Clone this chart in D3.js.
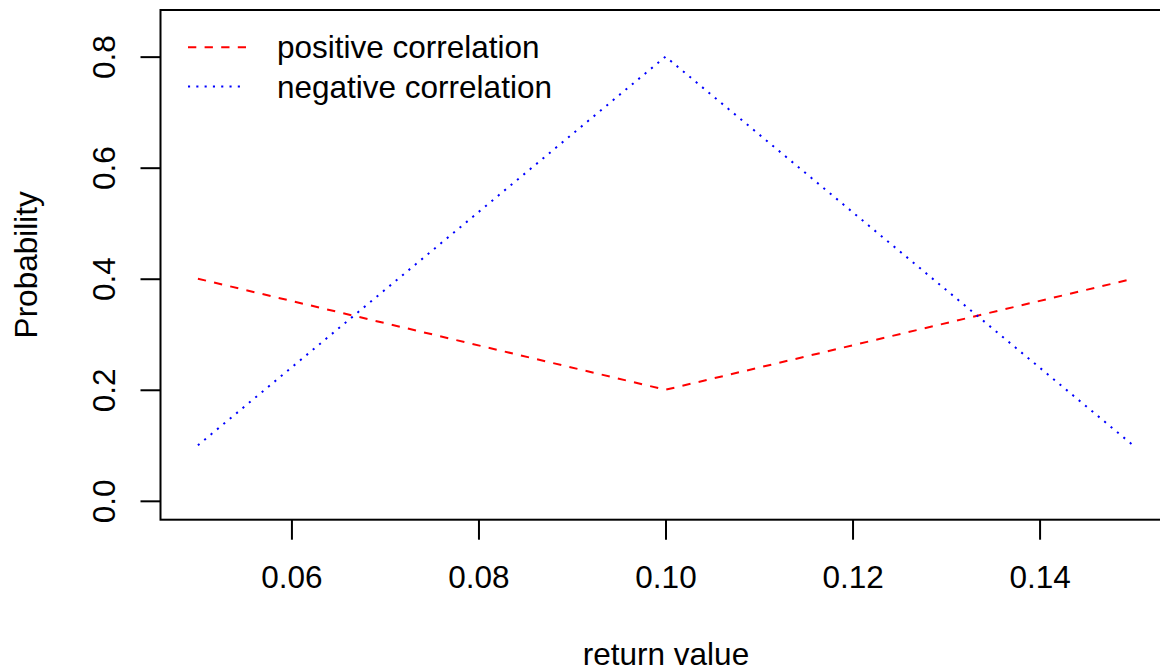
<!DOCTYPE html>
<html>
<head>
<meta charset="utf-8">
<script src="https://cdn.jsdelivr.net/npm/d3@7"></script>
<style>
  html, body { margin: 0; padding: 0; background: #fff; }
  svg { display: block; }
  text { font-family: "Liberation Sans", Arial, sans-serif; fill: #000; }
</style>
</head>
<body>
<svg id="chart" width="1160" height="672"></svg>
<script>
const returnValues = [0.05, 0.10, 0.15];
const positiveCorrelation = [0.4, 0.2, 0.4];
const negativeCorrelation = [0.1, 0.8, 0.1];
const xTicks = [0.06, 0.08, 0.10, 0.12, 0.14];
const yTicks = [0.0, 0.2, 0.4, 0.6, 0.8];
const seriesNames = ["positive correlation", "negative correlation"];
const seriesColors = ["#ff0000", "#0000ff"];

(function () {
const svg = d3.select("#chart");
const fs = 31.5;

const pLeft = 160.5, pRight = 1170.5, pTop = 10, pBottom = 519.7;
const x = d3.scaleLinear().domain([0.046, 0.154]).range([pLeft, pRight]);
const y = d3.scaleLinear().domain([-0.034, 0.884]).range([pBottom, pTop]);

// box
svg.append("rect")
  .attr("x", pLeft).attr("y", pTop)
  .attr("width", pRight - pLeft).attr("height", pBottom - pTop)
  .attr("fill", "none").attr("stroke", "#000").attr("stroke-width", 2);

// x axis
const xAxis = d3.axisBottom(x).tickValues(xTicks).tickFormat(d3.format(".2f"))
  .tickSize(20).tickPadding(0);
const gx = svg.append("g").attr("transform", `translate(0,${pBottom})`).call(xAxis);
gx.select(".domain").remove();
gx.selectAll(".tick line").attr("stroke", "#000").attr("stroke-width", 2);
gx.selectAll(".tick text").attr("font-size", fs).attr("font-family", "Liberation Sans, Arial, sans-serif")
  .attr("dy", null).attr("y", 588.5 - pBottom);

// y axis
const yAxis = d3.axisLeft(y).tickValues(yTicks).tickFormat(d3.format(".1f"))
  .tickSize(20).tickPadding(0);
const gy = svg.append("g").attr("transform", `translate(${pLeft},0)`).call(yAxis);
gy.select(".domain").remove();
gy.selectAll(".tick line").attr("stroke", "#000").attr("stroke-width", 2);
gy.selectAll(".tick text").attr("font-size", fs).attr("font-family", "Liberation Sans, Arial, sans-serif")
  .attr("x", null).attr("dy", null)
  .attr("text-anchor", "middle")
  .attr("transform", `translate(${115 - pLeft},0) rotate(-90)`);

// axis titles
svg.append("text").attr("x", 666).attr("y", 665).attr("text-anchor", "middle")
  .attr("font-size", fs).text("return value");
svg.append("text").attr("text-anchor", "middle").attr("font-size", fs)
  .attr("transform", `translate(37,${(pTop + pBottom) / 2}) rotate(-90)`).text("Probability");

// lines
const line = d3.line().x((d, i) => x(returnValues[i])).y(d => y(d));
svg.append("path").datum(positiveCorrelation).attr("d", line)
  .attr("fill", "none").attr("stroke", seriesColors[0]).attr("stroke-width", 2)
  .attr("stroke-dasharray", "8.3,8.3");
svg.append("path").datum(negativeCorrelation).attr("d", line)
  .attr("fill", "none").attr("stroke", seriesColors[1]).attr("stroke-width", 2)
  .attr("stroke-dasharray", "2.1,6.2");

// legend
const legendY = [47.3, 86.5];
const dashes = ["8.3,8.3", "2.1,6.2"];
seriesNames.forEach((name, i) => {
  svg.append("line").attr("x1", 188).attr("x2", 246)
    .attr("y1", legendY[i]).attr("y2", legendY[i])
    .attr("stroke", seriesColors[i]).attr("stroke-width", 2)
    .attr("stroke-dasharray", dashes[i]);
  svg.append("text").attr("x", 277).attr("y", legendY[i] + 11)
    .attr("font-size", fs).text(name);
});
})();
</script>
</body>
</html>
